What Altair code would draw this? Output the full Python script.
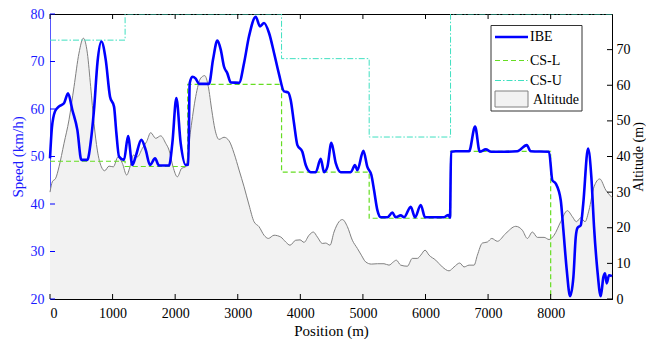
import altair as alt
import pandas as pd

# ---------------- data ----------------
ibe_x = [0, 30, 80, 140, 224, 288, 357, 437, 501, 597, 650, 703, 760, 821, 890, 959, 1023, 1060, 1103, 1183,
         1247, 1316, 1369, 1459, 1529, 1598, 1678, 1742, 1902, 1955, 2019, 2088, 2168, 2210, 2232, 2274, 2328,
         2381, 2541, 2605, 2674, 2728, 2781, 2834, 2888, 3021, 3101, 3180, 3287, 3356, 3420, 3500, 3580, 3660,
         3739, 3803, 3846, 3899, 3953, 4032, 4086, 4166, 4246, 4326, 4379, 4432, 4496, 4566, 4645, 4805, 4874,
         4911, 5007, 5071, 5135, 5178, 5231, 5285, 5391, 5471, 5524, 5604, 5657, 5764, 5833, 5924, 5993, 6296,
         6365, 6392, 6408, 6483, 6696, 6792, 6867, 6963, 7049, 7255, 7468, 7618, 7681, 7974, 8027, 8081, 8161,
         8203, 8257, 8310, 8363, 8401, 8430, 8480, 8520, 8597, 8650, 8693, 8746, 8800, 8842, 8869, 8895, 8933,
         8980]
ibe_v = [49.6, 56.0, 59.5, 60.5, 61.2, 63.3, 59.8, 55.6, 49.3, 49.3, 53.0, 59.8, 70.0, 74.2, 70.4, 62.6, 60.5,
         55.0, 50.0, 49.3, 54.3, 48.2, 50.0, 53.5, 51.4, 48.2, 49.6, 48.1, 48.1, 52.8, 62.3, 52.8, 48.2, 48.3,
         65.4, 66.8, 66.4, 65.3, 65.3, 70.4, 74.4, 72.5, 68.9, 67.5, 65.6, 65.5, 69.7, 75.3, 79.4, 77.4, 78.1,
         76.0, 71.8, 67.3, 63.7, 63.5, 61.9, 57.0, 52.4, 51.0, 48.2, 46.7, 46.7, 49.5, 46.7, 47.8, 52.9, 48.6,
         46.7, 46.7, 48.2, 47.1, 51.2, 47.8, 46.1, 42.9, 38.7, 37.2, 37.2, 38.2, 37.2, 37.6, 37.2, 39.4, 37.2,
         39.8, 37.2, 37.2, 37.7, 37.1, 51.0, 51.1, 51.1, 56.3, 51.0, 51.5, 51.0, 51.0, 51.1, 52.4, 51.1, 51.0,
         45.0, 44.3, 40.8, 34.5, 26.1, 20.6, 24.6, 33.1, 35.0, 35.5, 40.0, 51.7, 45.7, 35.2, 26.1, 20.6, 24.6,
         25.4, 23.3, 25.0, 24.8]

alt_x = [0, 37, 91, 144, 224, 304, 384, 463, 533, 597, 650, 703, 756, 821, 874, 943, 1012, 1087, 1156, 1225,
         1278, 1332, 1396, 1476, 1545, 1609, 1689, 1769, 1849, 1902, 1966, 2035, 2104, 2168, 2248, 2328, 2408,
         2472, 2530, 2584, 2637, 2701, 2781, 2861, 2941, 3021, 3101, 3180, 3260, 3340, 3420, 3489, 3580, 3687,
         3767, 3835, 3926, 3995, 4059, 4139, 4208, 4272, 4352, 4406, 4474, 4538, 4618, 4672, 4752, 4831, 4911,
         4975, 5045, 5135, 5231, 5337, 5417, 5486, 5534, 5604, 5710, 5790, 5870, 5924, 5993, 6057, 6164, 6269,
         6376, 6456, 6547, 6616, 6696, 6776, 6829, 6909, 6989, 7059, 7149, 7282, 7442, 7548, 7628, 7708, 7788,
         7895, 7974, 8054, 8161, 8267, 8347, 8411, 8481, 8549, 8613, 8693, 8784, 8880, 8980]
alt_h = [30.0, 32.9, 33.9, 37.1, 43.7, 50.3, 59.6, 69.0, 73.2, 69.0, 59.6, 49.3, 41.8, 37.1, 36.0, 37.3, 37.1,
         39.9, 38.1, 34.8, 37.1, 40.4, 39.9, 42.3, 44.2, 46.7, 45.1, 45.8, 43.7, 41.8, 37.1, 34.3, 36.7, 37.1,
         47.5, 56.8, 62.0, 62.7, 59.6, 53.1, 47.5, 44.8, 45.4, 44.4, 40.9, 36.2, 31.5, 26.4, 21.7, 20.3, 17.9,
         17.0, 17.9, 17.4, 16.0, 15.1, 16.5, 16.6, 15.9, 17.9, 18.8, 17.4, 15.6, 15.7, 15.1, 18.8, 21.7, 22.3,
         20.3, 16.5, 14.2, 12.3, 10.4, 9.8, 9.9, 9.9, 9.5, 10.4, 10.9, 9.5, 9.2, 11.4, 11.4, 12.3, 13.7, 12.3,
         10.9, 9.0, 7.9, 9.0, 10.1, 9.0, 9.5, 9.5, 12.3, 15.7, 16.0, 17.0, 16.2, 18.4, 20.4, 19.3, 17.0, 18.8,
         17.3, 17.3, 16.7, 17.9, 21.7, 24.8, 23.1, 21.7, 22.8, 21.7, 25.0, 31.5, 33.7, 30.6, 28.5]

csl_x = [0, 1200, 2200, 3700, 5100, 6400, 8000, 8980]
csl_v = [49.0, 47.9, 65.2, 46.7, 37.0, 51.1, 10.0, 10.0]
csu_x = [0, 1200, 3700, 5100, 6400, 8980]
csu_v = [74.5, 80.0, 70.6, 54.1, 80.0, 80.0]

x_ticks = [0, 1000, 2000, 3000, 4000, 5000, 6000, 7000, 8000]
speed_ticks = [20, 30, 40, 50, 60, 70, 80]
alt_ticks = [0, 10, 20, 30, 40, 50, 60, 70]
legend_labels = ["IBE", "CS-L", "CS-U", "Altitude"]

# ---------------- style ----------------
FONT = "Liberation Serif"
W, H = 562, 285
XMAX = 8980
BLUE = "#0000ff"
GREEN = "#66dd22"
CYAN = "#3fe0c0"
GRAY = "#808080"
FILL = "#f2f2f2"

xscale = alt.Scale(domain=[0, XMAX], nice=False, zero=False)
xaxis = alt.Axis(values=x_ticks, format="d", title="Position (m)", tickSize=0, labelPadding=7,
                 titlePadding=3, grid=False, domainColor="black", labelColor="black",
                 titleColor="black", labelFontSize=14, titleFontSize=15, labelFont=FONT, titleFont=FONT,
                 titleFontWeight="normal")

sscale = alt.Scale(domain=[20, 80], nice=False, zero=False)
saxis = alt.Axis(orient="left", values=speed_ticks, title="Speed (km/h)", tickSize=0, labelPadding=6,
                 titlePadding=5, grid=False, domainColor="#5555ff", labelColor="#1a1aff",
                 titleColor="#1a1aff", labelFontSize=14, titleFontSize=15, labelFont=FONT, titleFont=FONT,
                 titleFontWeight="normal")

ascale = alt.Scale(domain=[0, 80], nice=False, zero=False)
aaxis = alt.Axis(orient="right", values=alt_ticks, title="Altitude (m)", tickSize=0, labelPadding=4,
                 titlePadding=1, titleAngle=270, titleBaseline="top", grid=False, domainColor="black",
                 labelColor="black", titleColor="black", labelFontSize=14, titleFontSize=14,
                 labelFont=FONT, titleFont=FONT, titleFontWeight="normal")


def X(f):
    return alt.X(f + ":Q", scale=xscale, axis=xaxis)


def YS(f):
    return alt.Y(f + ":Q", scale=sscale, axis=saxis)


def YA(f):
    return alt.Y(f + ":Q", scale=ascale, axis=aaxis)


df_ibe = pd.DataFrame({"x": ibe_x, "v": ibe_v})
df_alt = pd.DataFrame({"x": alt_x, "h": alt_h})
df_csl = pd.DataFrame({"x": csl_x, "v": csl_v})
df_csu = pd.DataFrame({"x": csu_x, "v": csu_v})
df_xt = pd.DataFrame({"x": x_ticks})
df_st = pd.DataFrame({"v": speed_ticks})
df_at = pd.DataFrame({"h": alt_ticks})

# altitude group (right axis)
area = alt.Chart(df_alt).mark_area(color=FILL, interpolate="monotone", opacity=1).encode(
    x=X("x"), y=YA("h"))
area_line = alt.Chart(df_alt).mark_line(color=GRAY, strokeWidth=1, interpolate="monotone").encode(
    x=X("x"), y=YA("h"))
rticks = alt.Chart(df_at).mark_rule(color="black", strokeWidth=1).encode(
    y=YA("h"), x=alt.value(W), x2=alt.value(W - 5))
alt_group = alt.layer(area, area_line, rticks)

# speed group (left axis)
csu = alt.Chart(df_csu).mark_line(color=CYAN, strokeWidth=1, strokeDash=[6, 2, 1.5, 2],
                                  interpolate="step-after", clip=True).encode(x=X("x"), y=YS("v"))
csl = alt.Chart(df_csl).mark_line(color=GREEN, strokeWidth=1.2, strokeDash=[5, 3],
                                  interpolate="step-after", clip=True).encode(x=X("x"), y=YS("v"))
ibe = alt.Chart(df_ibe).mark_line(color=BLUE, strokeWidth=2.6, interpolate="monotone").encode(
    x=X("x"), y=YS("v"))
lticks = alt.Chart(df_st).mark_rule(color=BLUE, strokeWidth=1).encode(
    y=YS("v"), x=alt.value(0), x2=alt.value(5))
bticks = alt.Chart(df_xt).mark_rule(color="black", strokeWidth=1).encode(
    x=X("x"), y=alt.value(H), y2=alt.value(H - 5))
tticks = alt.Chart(df_xt).mark_rule(color="black", strokeWidth=1).encode(
    x=X("x"), y=alt.value(0), y2=alt.value(5))


# legend (drawn in pixel space)
def lab_df(i):
    return pd.DataFrame({"label": [legend_labels[i]]})


leg_box = alt.Chart(lab_df(0)).mark_rect(fill="white", stroke="#333333", strokeWidth=1).encode(
    x=alt.value(441), x2=alt.value(532), y=alt.value(11.5), y2=alt.value(97))
leg_ibe = alt.Chart(lab_df(0)).mark_rule(color=BLUE, strokeWidth=2.6).encode(
    x=alt.value(445), x2=alt.value(478), y=alt.value(23))
leg_csl = alt.Chart(lab_df(1)).mark_rule(color=GREEN, strokeWidth=1.2, strokeDash=[5, 3]).encode(
    x=alt.value(445), x2=alt.value(478), y=alt.value(46.5))
leg_csu = alt.Chart(lab_df(2)).mark_rule(color=CYAN, strokeWidth=1, strokeDash=[6, 2, 1.5, 2]).encode(
    x=alt.value(445), x2=alt.value(478), y=alt.value(66.5))
leg_alt = alt.Chart(lab_df(3)).mark_rect(fill=FILL, stroke=GRAY, strokeWidth=1).encode(
    x=alt.value(445), x2=alt.value(478), y=alt.value(77), y2=alt.value(93))
leg_texts = []
for i, ypos in enumerate([23, 46.5, 66.5, 85.5]):
    leg_texts.append(
        alt.Chart(lab_df(i)).mark_text(align="left", baseline="middle", font=FONT, fontSize=14,
                                       color="black").encode(
            x=alt.value(480 if i < 3 else 483), y=alt.value(ypos), text="label:N"))

speed_group = alt.layer(csu, csl, ibe, lticks, bticks, tticks, leg_box, leg_ibe, leg_csl, leg_csu,
                        leg_alt, *leg_texts)

chart = alt.layer(alt_group, speed_group).resolve_scale(y="independent").properties(
    width=W, height=H,
    autosize=alt.AutoSizeParams(type="none"),
    padding={"left": 42, "top": 6, "right": 34, "bottom": 40},
).configure(background="white", font=FONT).configure_view(
    stroke="black", strokeWidth=1
).configure_axis(labelFont=FONT, titleFont=FONT, titleFontWeight="normal")

chart.save("out.html", embed_options={"renderer": "svg", "actions": False})
